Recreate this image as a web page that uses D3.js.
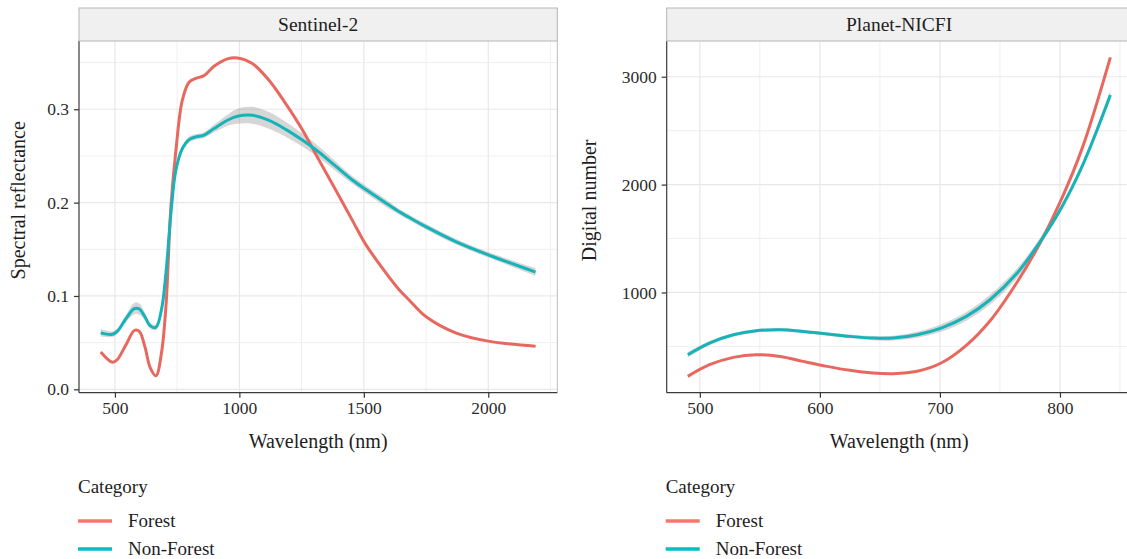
<!DOCTYPE html>
<html>
<head>
<meta charset="utf-8">
<script src="https://cdn.jsdelivr.net/npm/d3@7"></script>
<style>
  html, body { margin: 0; padding: 0; background: #fff; }
  svg { display: block; }
  text { font-family: "Liberation Serif", "DejaVu Serif", serif; }
</style>
</head>
<body>
<svg id="chart" width="1127" height="559"></svg>
<script>
// ---------------- DATA ----------------
const categories = ["Forest", "Non-Forest"];
const legendTitle = "Category";

// Sentinel-2 panel
const s2Title = "Sentinel-2";
const s2YLabel = "Spectral reflectance";
const s2XLabel = "Wavelength (nm)";
const s2Wavelength = [443, 490, 510, 545, 578, 598, 620, 642, 665, 687, 705, 725, 745, 771, 798, 825, 858, 898, 952, 992,
  1052, 1119, 1186, 1253, 1320, 1387, 1454, 1508, 1588, 1641, 1681, 1749, 1869, 2000, 2190];
const s2Forest = [0.040, 0.029, 0.032, 0.048, 0.063, 0.062, 0.046, 0.023, 0.0145, 0.039, 0.089, 0.196, 0.256, 0.310, 0.329, 0.333, 0.336, 0.346, 0.354, 0.355,
  0.349, 0.331, 0.306, 0.278, 0.2455, 0.2135, 0.181, 0.155, 0.125, 0.107, 0.096, 0.078, 0.0605, 0.0516, 0.0462];
const s2NonForest = [0.0605, 0.059, 0.0623, 0.076, 0.0865, 0.086, 0.078, 0.068, 0.0665, 0.0854, 0.1246, 0.1886, 0.2349, 0.258, 0.2675, 0.2704, 0.2722, 0.2793, 0.2882, 0.2925,
  0.2936, 0.288, 0.2785, 0.267, 0.254, 0.239, 0.2242, 0.214, 0.1997, 0.1904, 0.1843, 0.1743, 0.1583, 0.1441, 0.1256];
const s2ForestCI = [0.001, 0.001, 0.001, 0.001, 0.001, 0.001, 0.001, 0.001, 0.001, 0.001, 0.001, 0.001, 0.001, 0.001, 0.001, 0.001, 0.001, 0.001, 0.001, 0.001,
  0.001, 0.001, 0.001, 0.001, 0.001, 0.001, 0.001, 0.001, 0.001, 0.001, 0.001, 0.001, 0.001, 0.001, 0.001];
const s2NonForestCI = [0.004, 0.003, 0.003, 0.004, 0.006, 0.006, 0.004, 0.003, 0.003, 0.003, 0.003, 0.003, 0.003, 0.003, 0.003, 0.003, 0.003, 0.004, 0.006, 0.008,
  0.009, 0.009, 0.008, 0.007, 0.006, 0.005, 0.004, 0.004, 0.004, 0.003, 0.003, 0.003, 0.003, 0.003, 0.004];
const s2XTicks = [500, 1000, 1500, 2000];
const s2XTickLabels = ["500", "1000", "1500", "2000"];
const s2YTicks = [0, 0.1, 0.2, 0.3];
const s2YTickLabels = ["0.0", "0.1", "0.2", "0.3"];

// Planet-NICFI panel
const plTitle = "Planet-NICFI";
const plYLabel = "Digital number";
const plXLabel = "Wavelength (nm)";
const plWavelength = [490, 508, 528, 547, 567, 586, 606, 625, 644, 661, 681, 701, 722, 742, 764, 783, 801, 819, 842];
const plForest = [222, 330, 398, 423, 407, 361, 315, 278, 253, 247, 269, 346, 510, 740, 1090, 1450, 1858, 2352, 3180];
const plNonForest = [423, 531, 608, 645, 655, 639, 615, 593, 577, 577, 608, 670, 778, 935, 1175, 1462, 1781, 2182, 2830];
const plForestCI = [3, 3, 3, 3, 3, 3, 3, 3, 3, 3, 3, 3, 3, 3, 3, 3, 3, 3, 3];
const plNonForestCI = [25, 20, 15, 15, 15, 15, 15, 18, 20, 22, 28, 35, 40, 45, 45, 35, 25, 30, 45];
const plXTicks = [500, 600, 700, 800];
const plXTickLabels = ["500", "600", "700", "800"];
const plYTicks = [1000, 2000, 3000];
const plYTickLabels = ["1000", "2000", "3000"];

// ---------------- STYLE ----------------
const lineColors = { "Forest": "#E8685F", "Non-Forest": "#16B3B8" };
const keyColors = { "Forest": "#F8766D", "Non-Forest": "#00BFC4" };

const svg = d3.select("#chart");

function expand(ext, f) {
  const d = ext[1] - ext[0];
  return [ext[0] - d * f, ext[1] + d * f];
}

function drawPanel(cfg) {
  const { x0, x1, y0, y1, stripTop } = cfg;
  const g = svg.append("g");

  const xExt = d3.extent(cfg.wl);
  const lows = [], highs = [];
  cfg.series.forEach(s => s.values.forEach((v, i) => { lows.push(v - s.ci[i]); highs.push(v + s.ci[i]); }));
  const yExt = [d3.min(lows), d3.max(highs)];

  const x = d3.scaleLinear().domain(expand(xExt, 0.05)).range([x0, x1]);
  const y = d3.scaleLinear().domain(expand(yExt, 0.05)).range([y1, y0]);

  const clipId = "clip-" + cfg.id;
  svg.append("clipPath").attr("id", clipId)
    .append("rect").attr("x", x0).attr("y", y0).attr("width", x1 - x0).attr("height", y1 - y0);

  const minorOf = (ticks, sc) => {
    const step = ticks[1] - ticks[0];
    const d = sc.domain();
    const arr = ticks.map(t => t - step / 2).concat([ticks[ticks.length - 1] + step / 2]);
    return arr.filter(v => v >= d[0] && v <= d[1]);
  };
  const grid = g.append("g");
  grid.selectAll(".xminor").data(minorOf(cfg.xTicks, x)).enter().append("line")
    .attr("x1", d => x(d)).attr("x2", d => x(d)).attr("y1", y0).attr("y2", y1)
    .attr("stroke", "#efefef").attr("stroke-width", 1);
  grid.selectAll(".yminor").data(minorOf(cfg.yTicks, y)).enter().append("line")
    .attr("x1", x0).attr("x2", x1).attr("y1", d => y(d)).attr("y2", d => y(d))
    .attr("stroke", "#efefef").attr("stroke-width", 1);
  grid.selectAll(".xmajor").data(cfg.xTicks).enter().append("line")
    .attr("x1", d => x(d)).attr("x2", d => x(d)).attr("y1", y0).attr("y2", y1)
    .attr("stroke", "#e8e8e8").attr("stroke-width", 1.2);
  grid.selectAll(".ymajor").data(cfg.yTicks).enter().append("line")
    .attr("x1", x0).attr("x2", x1).attr("y1", d => y(d)).attr("y2", d => y(d))
    .attr("stroke", "#e8e8e8").attr("stroke-width", 1.2);

  g.append("line").attr("x1", x1).attr("x2", x1).attr("y1", y0).attr("y2", y1)
    .attr("stroke", "#bdbdbd").attr("stroke-width", 1);

  const plot = g.append("g").attr("clip-path", `url(#${clipId})`);
  cfg.series.forEach(s => {
    const pts = cfg.wl.map((w, i) => ({ w, v: s.values[i], lo: s.values[i] - s.ci[i], hi: s.values[i] + s.ci[i] }));
    plot.append("path").datum(pts)
      .attr("d", d3.area().x(d => x(d.w)).y0(d => y(d.lo)).y1(d => y(d.hi)).curve(d3.curveCatmullRom.alpha(0.5)))
      .attr("fill", "#999999").attr("fill-opacity", 0.4);
  });
  cfg.series.forEach(s => {
    const pts = cfg.wl.map((w, i) => ({ w, v: s.values[i] }));
    plot.append("path").datum(pts)
      .attr("d", d3.line().x(d => x(d.w)).y(d => y(d.v)).curve(d3.curveCatmullRom.alpha(0.5)))
      .attr("fill", "none").attr("stroke", lineColors[s.name]).attr("stroke-width", 3)
      .attr("stroke-linejoin", "round");
  });

  const xAxis = d3.axisBottom(x).tickValues(cfg.xTicks).tickFormat((d, i) => cfg.xTickLabels[i]).tickSize(5).tickPadding(4).tickSizeOuter(0);
  const yAxis = d3.axisLeft(y).tickValues(cfg.yTicks).tickFormat((d, i) => cfg.yTickLabels[i]).tickSize(5).tickPadding(5).tickSizeOuter(0);
  const gx = g.append("g").attr("transform", `translate(0,${y1})`).call(xAxis);
  const gy = g.append("g").attr("transform", `translate(${x0},0)`).call(yAxis);
  gx.select(".domain").attr("d", `M${x0},0H${x1}`).attr("stroke", "#3a3a3a").attr("stroke-width", 1.2);
  gy.select(".domain").attr("d", `M0,${y0}V${y1}`).attr("stroke", "#3a3a3a").attr("stroke-width", 1.2);
  [gx, gy].forEach(a => {
    a.selectAll(".tick line").attr("stroke", "#333").attr("stroke-width", 1.2);
    a.selectAll(".tick text").attr("fill", "#2b2b2b").style("font-size", "17.5px")
      .style("font-family", '"Liberation Serif", serif');
  });

  g.append("rect").attr("x", x0).attr("y", stripTop).attr("width", x1 - x0).attr("height", y0 - stripTop)
    .attr("fill", "#f0f0f0").attr("stroke", "#b5b5b5").attr("stroke-width", 1);
  g.append("text").attr("x", (x0 + x1) / 2).attr("y", stripTop + 23)
    .attr("text-anchor", "middle").attr("fill", "#1e1e1e").style("font-size", "19.5px").text(cfg.title);

  g.append("text").attr("x", (x0 + x1) / 2).attr("y", 448)
    .attr("text-anchor", "middle").attr("fill", "#1e1e1e").style("font-size", "20px").text(cfg.xLabel);
  g.append("text").attr("transform", `translate(${cfg.yLabelX},${(stripTop + y1) / 2}) rotate(-90)`)
    .attr("text-anchor", "middle").attr("fill", "#1e1e1e").style("font-size", "20px").text(cfg.yLabel);

  const lg = g.append("g").attr("transform", `translate(${x0 - 1},0)`);
  lg.append("text").attr("x", 0).attr("y", 493).attr("fill", "#1e1e1e").style("font-size", "19px").text(legendTitle);
  categories.forEach((c, i) => {
    const yy = 521 + i * 28;
    lg.append("line").attr("x1", 0).attr("x2", 34).attr("y1", yy).attr("y2", yy)
      .attr("stroke", keyColors[c]).attr("stroke-width", 3.5);
    lg.append("text").attr("x", 50).attr("y", yy + 6).attr("fill", "#1e1e1e").style("font-size", "19px").text(c);
  });
}

drawPanel({
  id: "s2", x0: 79, x1: 557.3, y0: 41, y1: 392.7, stripTop: 8, yLabelX: 25,
  wl: s2Wavelength,
  series: [
    { name: "Forest", values: s2Forest, ci: s2ForestCI },
    { name: "Non-Forest", values: s2NonForest, ci: s2NonForestCI }
  ],
  xTicks: s2XTicks, xTickLabels: s2XTickLabels, yTicks: s2YTicks, yTickLabels: s2YTickLabels,
  title: s2Title, xLabel: s2XLabel, yLabel: s2YLabel
});

drawPanel({
  id: "pl", x0: 666.7, x1: 1131.5, y0: 41, y1: 392.7, stripTop: 8, yLabelX: 596,
  wl: plWavelength,
  series: [
    { name: "Forest", values: plForest, ci: plForestCI },
    { name: "Non-Forest", values: plNonForest, ci: plNonForestCI }
  ],
  xTicks: plXTicks, xTickLabels: plXTickLabels, yTicks: plYTicks, yTickLabels: plYTickLabels,
  title: plTitle, xLabel: plXLabel, yLabel: plYLabel
});
</script>
</body>
</html>
